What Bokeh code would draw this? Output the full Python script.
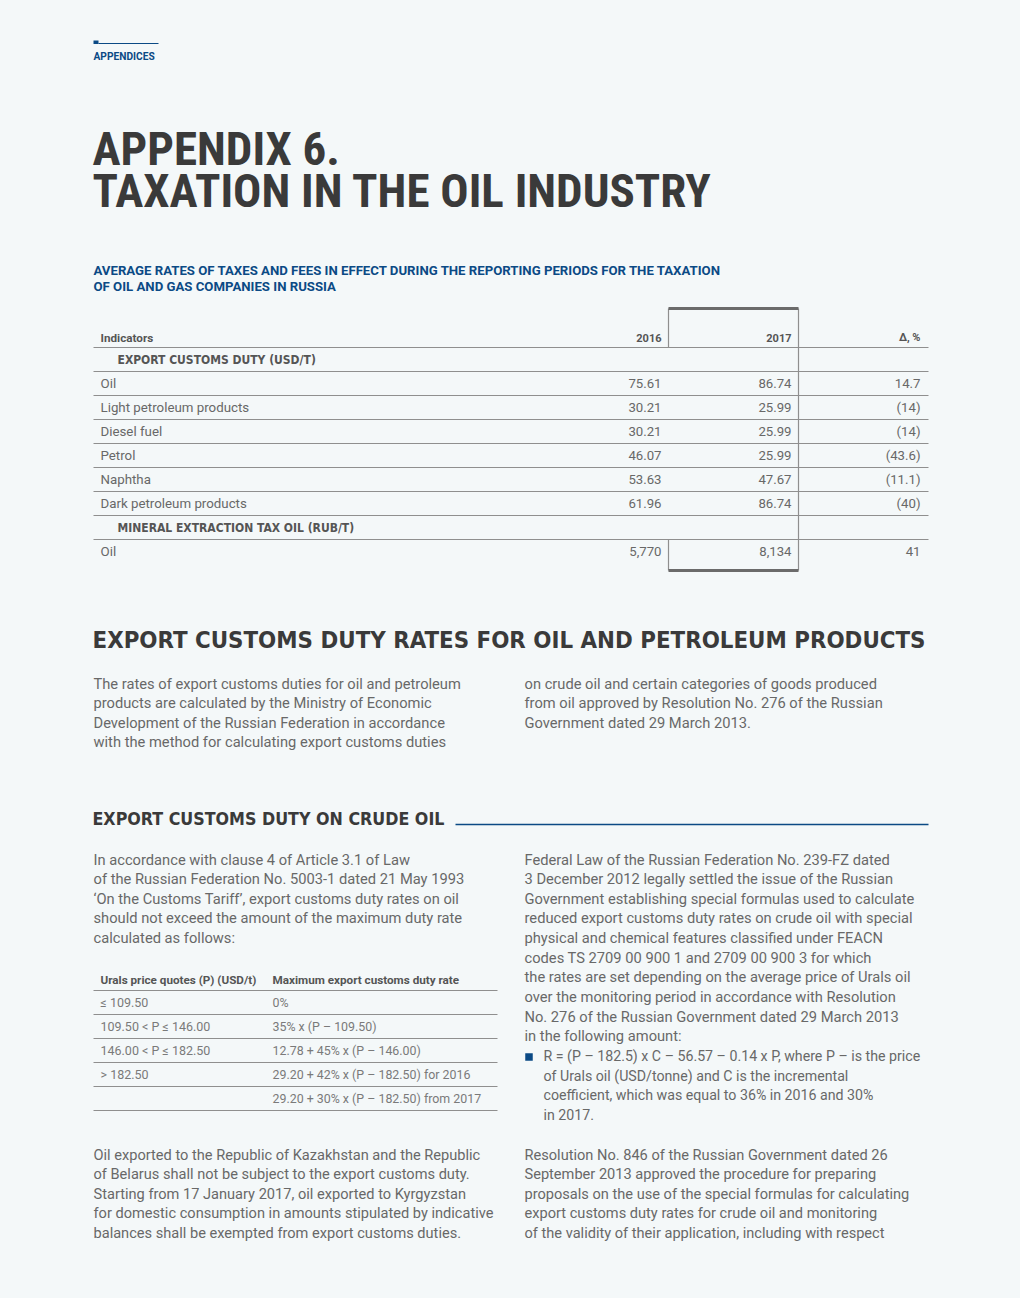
from bokeh.plotting import figure
from bokeh.models import Range1d, ColumnDataSource
from bokeh.core.properties import value
from bokeh.embed import file_html
from bokeh.resources import INLINE

BG = "#f4f8f9"
BLUE = "#0b4a85"
DARK = "#3a3a3a"
GRAY = "#686868"
LINE = "#8f8f8f"
BODY = "Roboto"
COND = "Roboto Condensed"
HEAD = "DejaVu Sans Condensed"

# ---------------- data ----------------
section_label = "APPENDICES"
title_lines = ["APPENDIX 6.", "TAXATION IN THE OIL INDUSTRY"]
table_title = ["AVERAGE RATES OF TAXES AND FEES IN EFFECT DURING THE REPORTING PERIODS FOR THE TAXATION",
               "OF OIL AND GAS COMPANIES IN RUSSIA"]
table_cols = ["Indicators", "2016", "2017", "Δ, %"]
indicators = ["EXPORT CUSTOMS DUTY (USD/T)", "Oil", "Light petroleum products", "Diesel fuel", "Petrol",
              "Naphtha", "Dark petroleum products", "MINERAL EXTRACTION TAX OIL (RUB/T)", "Oil"]
is_group = [True, False, False, False, False, False, False, True, False]
val_2016 = [None, 75.61, 30.21, 30.21, 46.07, 53.63, 61.96, None, 5770]
val_2017 = [None, 86.74, 25.99, 25.99, 25.99, 47.67, 86.74, None, 8134]
delta_pct = [None, 14.7, -14, -14, -43.6, -11.1, -40, None, 41]

heading_rates = "EXPORT CUSTOMS DUTY RATES FOR OIL AND PETROLEUM PRODUCTS"
rates_col1 = ["The rates of export customs duties for oil and petroleum",
              "products are calculated by the Ministry of Economic",
              "Development of the Russian Federation in accordance",
              "with the method for calculating export customs duties"]
rates_col2 = ["on crude oil and certain categories of goods produced",
              "from oil approved by Resolution No. 276 of the Russian",
              "Government dated 29 March 2013."]

heading_crude = "EXPORT CUSTOMS DUTY ON CRUDE OIL"
crude_col1 = ["In accordance with clause 4 of Article 3.1 of Law",
              "of the Russian Federation No. 5003-1 dated 21 May 1993",
              "‘On the Customs Tariff’, export customs duty rates on oil",
              "should not exceed the amount of the maximum duty rate",
              "calculated as follows:"]
crude_col2 = ["Federal Law of the Russian Federation No. 239-FZ dated",
              "3 December 2012 legally settled the issue of the Russian",
              "Government establishing special formulas used to calculate",
              "reduced export customs duty rates on crude oil with special",
              "physical and chemical features classified under FEACN",
              "codes TS 2709 00 900 1 and 2709 00 900 3 for which",
              "the rates are set depending on the average price of Urals oil",
              "over the monitoring period in accordance with Resolution",
              "No. 276 of the Russian Government dated 29 March 2013",
              "in the following amount:"]
crude_bullet = ["R = (P – 182.5) x C – 56.57 – 0.14 x P, where P – is the price",
                "of Urals oil (USD/tonne) and C is the incremental",
                "coefficient, which was equal to 36% in 2016 and 30%",
                "in 2017."]
duty_cols = ["Urals price quotes (P) (USD/t)", "Maximum export customs duty rate"]
price_quotes = ["≤ 109.50", "109.50 < P ≤ 146.00", "146.00 < P ≤ 182.50", "> 182.50", ""]
max_duty = ["0%", "35% x (P – 109.50)", "12.78 + 45% x (P – 146.00)",
            "29.20 + 42% x (P – 182.50) for 2016", "29.20 + 30% x (P – 182.50) from 2017"]
tail_col1 = ["Oil exported to the Republic of Kazakhstan and the Republic",
             "of Belarus shall not be subject to the export customs duty.",
             "Starting from 17 January 2017, oil exported to Kyrgyzstan",
             "for domestic consumption in amounts stipulated by indicative",
             "balances shall be exempted from export customs duties."]
tail_col2 = ["Resolution No. 846 of the Russian Government dated 26",
             "September 2013 approved the procedure for preparing",
             "proposals on the use of the special formulas for calculating",
             "export customs duty rates for crude oil and monitoring",
             "of the validity of their application, including with respect"]

# ---------------- figure ----------------
p = figure(width=1004, height=1282, x_range=Range1d(0, 1004), y_range=Range1d(1282, 0),
           output_backend="svg", toolbar_location=None, min_border=0)
p.axis.visible = False
p.grid.visible = False
p.outline_line_color = None
p.background_fill_color = BG
p.border_fill_color = BG


def txt(xs, ys, texts, size, color, font=BODY, style="normal", align="left"):
    src = ColumnDataSource(dict(x=list(xs), y=list(ys), t=list(texts)))
    p.text("x", "y", text="t", source=src, text_font=value(font), text_font_size=f"{size}px",
           text_color=color, text_font_style=style, text_align=align, text_baseline="middle")


def seg(x0, y0, x1, y1, color=LINE, width=1.0):
    p.segment(x0=x0, y0=y0, x1=x1, y1=y1, line_color=color, line_width=width)


def para(lines, x, y0, size=14.7, color=GRAY, font=BODY, step=19.65):
    txt([x] * len(lines), [y0 + i * step for i in range(len(lines))], lines, size, color, font)


# header mark
p.rect(x=[95.5], y=[41.8], width=5, height=3.4, fill_color=BLUE, line_color=None)
seg([98], [43], [158], [43], BLUE, 1.2)
txt([93], [56], [section_label], 10.2, BLUE, BODY, "bold")

# title
txt([92, 92], [148, 190], title_lines, 47, DARK, COND, "bold")

# table title
txt([93, 93], [270, 286], table_title, 13.2, BLUE, BODY, "bold")

# ---- table 1 ----
X_L, X_R = 93, 928
C16, C17, CD = 661, 791, 920
BOX_L, BOX_R = 668, 798
HEAD_Y = 337
ROW0 = 359
RH = 24
n = len(indicators)
row_y = [ROW0 + i * RH for i in range(n)]
top_box = 308
bot_box = row_y[-1] + 19

txt([100], [HEAD_Y], [table_cols[0]], 11.7, "#555555", BODY, "bold")
txt([C16, C17, CD], [HEAD_Y] * 3, table_cols[1:], 11, "#555555", BODY, "bold", "right")

def fmt(v, big):
    if v is None:
        return ""
    if big:
        return f"{v:,.0f}"
    return f"{v:.2f}"

def fmt_d(v):
    if v is None:
        return ""
    s = f"{abs(v):g}"
    return f"({s})" if v < 0 else s

big = [i == n - 1 for i in range(n)]
g_idx = [i for i in range(n) if is_group[i]]
r_idx = [i for i in range(n) if not is_group[i]]
txt([117] * len(g_idx), [row_y[i] for i in g_idx], [indicators[i] for i in g_idx], 12.0, "#555555", HEAD, "bold")
txt([100] * len(r_idx), [row_y[i] for i in r_idx], [indicators[i] for i in r_idx], 13.3, GRAY)
txt([C16] * len(r_idx), [row_y[i] for i in r_idx], [fmt(val_2016[i], big[i]) for i in r_idx], 13.2, GRAY, BODY, "normal", "right")
txt([C17] * len(r_idx), [row_y[i] for i in r_idx], [fmt(val_2017[i], big[i]) for i in r_idx], 13.2, GRAY, BODY, "normal", "right")
txt([CD] * len(r_idx), [row_y[i] for i in r_idx], [fmt_d(delta_pct[i]) for i in r_idx], 13.2, GRAY, BODY, "normal", "right")

hl = [HEAD_Y + 10] + [y + RH / 2 for y in row_y[:-1]]
seg([X_L] * len(hl), hl, [X_R] * len(hl), hl, LINE, 1.2)
# highlighted 2017 column box
seg([BOX_L, BOX_L], [top_box, row_y[-1] - RH / 2], [BOX_L, BOX_L], [hl[0], bot_box], LINE, 1.2)
seg([BOX_R], [top_box], [BOX_R], [bot_box], LINE, 1.2)
seg([BOX_L, BOX_L], [top_box, bot_box], [BOX_R, BOX_R], [top_box, bot_box], "#6b6b6b", 3)

# ---- section: rates ----
txt([92], [639], [heading_rates], 23.8, DARK, HEAD, "bold")
para(rates_col1, 93, 683)
para(rates_col2, 524, 683)

# ---- section: crude ----
txt([92], [818], [heading_crude], 17.7, DARK, HEAD, "bold")
seg([455], [824], [928], [824], BLUE, 1.3)
para(crude_col1, 93, 859)
para(crude_col2, 524, 859)
b0 = 859 + len(crude_col2) * 19.65
p.rect(x=[528.5], y=[b0 + 1], width=7.5, height=7.5, fill_color=BLUE, line_color=None)
para(crude_bullet, 543, b0, size=14.2)

# table 2
T2_L, T2_R = 93, 497
t2_head = 979
t2_rows = [1002 + i * 24 for i in range(len(price_quotes))]
txt([100, 272], [t2_head] * 2, duty_cols, 11.7, "#555555", BODY, "bold")
txt([100] * len(price_quotes), t2_rows, price_quotes, 12.5, "#7a7a7a")
txt([272] * len(max_duty), t2_rows, max_duty, 12.4, "#7a7a7a")
l2 = [t2_head + 11] + [y + 12 for y in t2_rows]
seg([T2_L] * len(l2), l2, [T2_R] * len(l2), l2, LINE, 1.2)

# tail paragraphs
para(tail_col1, 93, 1154, size=14.6)
para(tail_col2, 524, 1154, size=14.6)

html = file_html(p, INLINE)
html = html.replace("<body>", f'<body style="background:{BG}">')
open("out.html", "w").write(html)
